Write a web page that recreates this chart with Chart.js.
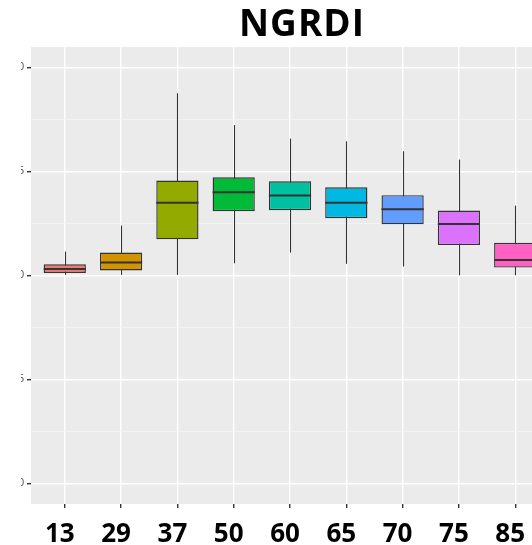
<!DOCTYPE html>
<html>
<head>
<meta charset="utf-8">
<script src="https://cdn.jsdelivr.net/npm/chart.js@4"></script>
<style>
  html, body { margin: 0; padding: 0; background: #fff; }
  #wrap { position: relative; width: 532px; height: 545px; overflow: hidden; }
  #wrap canvas { position: absolute; left: 0; top: 0; }
  #title {
    position: absolute; left: 202px; width: 200px; top: 3px;
    text-align: center; font: bold 37px "Open Sans"; line-height: 37px; color: #000;
    letter-spacing: 1px;
  }
  #mask { position: absolute; left: 0; top: 0; width: 21px; height: 545px; background: #fff; }
</style>
</head>
<body>
<div id="wrap">
  <canvas id="boxChart" width="560" height="545"></canvas>
  <div id="mask"></div>
  <div id="title">NGRDI</div>
</div>
<script>
// Kategori (umur / hari)
const labels = ['13', '29', '37', '50', '60', '65', '70', '75', '85'];
// Nilai boxplot
const whiskerLow = [0.0003, 0.0003, 0.0003, 0.0059, 0.0110, 0.0056, 0.0043, 0.0001, 0.0001];
const q1 = [0.0012, 0.0024, 0.0174, 0.0309, 0.0314, 0.0275, 0.0246, 0.0146, 0.0038];
const median = [0.0031, 0.0063, 0.0349, 0.0400, 0.0384, 0.0349, 0.0318, 0.0248, 0.0075];
const q3 = [0.0054, 0.0110, 0.0456, 0.0472, 0.0453, 0.0424, 0.0386, 0.0312, 0.0157];
const whiskerHigh = [0.0115, 0.0240, 0.0876, 0.0723, 0.0658, 0.0645, 0.0597, 0.0557, 0.0336];
// Tick sumbu y (major + minor)
const yTicks = [-0.1, -0.075, -0.05, -0.025, 0, 0.025, 0.05, 0.075, 0.1];
const yMajor = [-0.1, -0.05, 0, 0.05, 0.1];

const fills = ['#F8766D', '#D39200', '#93AA00', '#00BA38', '#00C19F', '#00B9E3', '#619CFF', '#DB72FB', '#FF61C3'];

const isMajor = v => yMajor.some(m => Math.abs(m - v) < 1e-9);

// Latar panel abu-abu ala ggplot
const panelBg = {
    id: 'panelBg',
    beforeDraw(chart) {
        const { ctx, chartArea: a } = chart;
        ctx.save();
        ctx.fillStyle = '#EBEBEB';
        ctx.fillRect(a.left, a.top, a.right - a.left, a.bottom - a.top);
        ctx.restore();
    }
};

// Whisker dan garis median
const boxParts = {
    id: 'boxParts',
    beforeDatasetsDraw(chart) {
        const { ctx, scales: { x, y } } = chart;
        ctx.save();
        ctx.strokeStyle = '#333333';
        ctx.lineWidth = 1.1;
        labels.forEach((l, i) => {
            const px = Math.round(x.getPixelForValue(i)) + 0.5;
            ctx.beginPath();
            ctx.moveTo(px, y.getPixelForValue(whiskerLow[i]));
            ctx.lineTo(px, y.getPixelForValue(whiskerHigh[i]));
            ctx.stroke();
        });
        ctx.restore();
    },
    afterDatasetsDraw(chart) {
        const { ctx, scales: { x, y } } = chart;
        const meta = chart.getDatasetMeta(0);
        ctx.save();
        ctx.strokeStyle = '#333333';
        ctx.lineWidth = 2;
        meta.data.forEach((bar, i) => {
            const py = y.getPixelForValue(median[i]);
            ctx.beginPath();
            ctx.moveTo(bar.x - bar.width / 2, py);
            ctx.lineTo(bar.x + bar.width / 2, py);
            ctx.stroke();
        });
        ctx.restore();
    }
};

new Chart(document.getElementById('boxChart'), {
    type: 'bar',
    data: {
        datasets: [{
            data: labels.map((l, i) => ({ x: i, y: [q1[i], q3[i]] })),
            backgroundColor: fills,
            borderColor: '#333333',
            borderWidth: 1.4,
            borderSkipped: false,
            barPercentage: 0.75,
            categoryPercentage: 1
        }]
    },
    options: {
        responsive: false,
        animation: false,
        events: [],
        layout: { padding: { top: 47, right: 11, left: 0, bottom: 0 } },
        scales: {
            x: {
                type: 'linear',
                min: -0.6,
                max: 8.6,
                offset: false,
                afterBuildTicks: s => { s.ticks = labels.map((l, i) => ({ value: i })); },
                afterFit: s => { s.height = 41; },
                ticks: {
                    callback: v => labels[v],
                    color: '#000',
                    font: { family: 'Open Sans', weight: 'bold', size: 26 },
                    padding: 11,
                    labelOffset: -5,
                    maxRotation: 0,
                    autoSkip: false
                },
                grid: { offset: false, color: '#FFFFFF', lineWidth: 1.4, tickColor: '#333333', tickLength: 4 },
                border: { display: false }
            },
            y: {
                min: -0.1098,
                max: 0.1098,
                afterBuildTicks: s => { s.ticks = yTicks.map(v => ({ value: v })); },
                afterFit: s => { s.width = 31; },
                ticks: {
                    callback: v => isMajor(v) ? v.toFixed(2) : '',
                    color: '#4D4D4D',
                    font: { family: 'Liberation Sans', size: 10 },
                    padding: 3
                },
                grid: {
                    color: c => isMajor(c.tick.value) ? '#FFFFFF' : '#F5F5F5',
                    lineWidth: c => isMajor(c.tick.value) ? 1.4 : 0.8,
                    tickColor: c => isMajor(c.tick.value) ? '#333333' : 'rgba(0,0,0,0)',
                    tickLength: 4
                },
                border: { display: false }
            }
        },
        plugins: {
            legend: { display: false },
            tooltip: { enabled: false }
        }
    },
    plugins: [panelBg, boxParts]
});
</script>
</body>
</html>
